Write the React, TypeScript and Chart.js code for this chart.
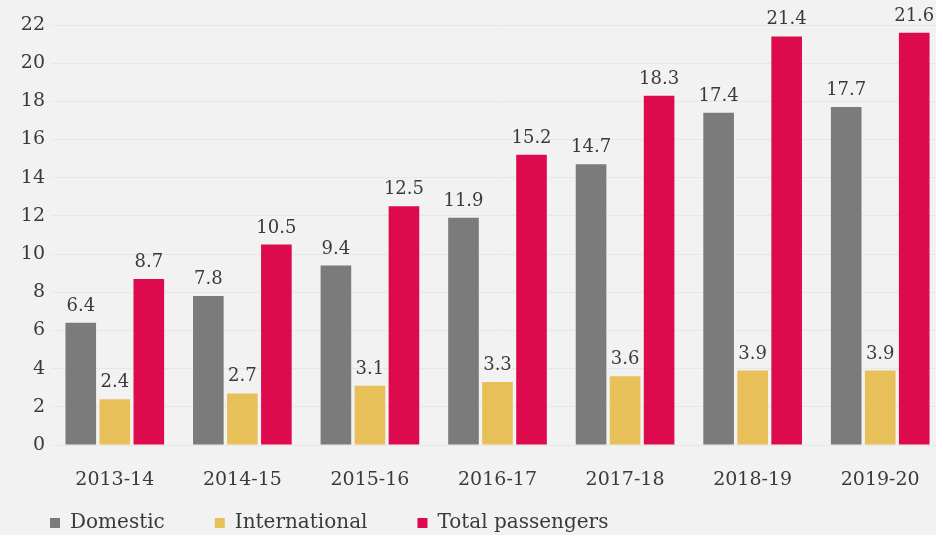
import React, { useEffect, useRef } from "react";
import { Chart, registerables } from "chart.js";

Chart.register(...registerables);

const categories = ["2013-14", "2014-15", "2015-16", "2016-17", "2017-18", "2018-19", "2019-20"];
const domestic = [6.4, 7.8, 9.4, 11.9, 14.7, 17.4, 17.7];
const international = [2.4, 2.7, 3.1, 3.3, 3.6, 3.9, 3.9];
const totalPassengers = [8.7, 10.5, 12.5, 15.2, 18.3, 21.4, 21.6];
const seriesNames = ["Domestic", "International", "Total passengers"];
const yTicks = [0, 2, 4, 6, 8, 10, 12, 14, 16, 18, 20, 22];

const FONT = "'DejaVu Serif', serif";
const TEXT = "#3a3a3a";
const LEGEND_PAD = 50;
const X_AXIS_H = 50;
const LEGEND_ITEM_Y = 523;

const valueLabels = {
  id: "valueLabels",
  afterDatasetsDraw(chart: any) {
    const ctx = chart.ctx;
    ctx.save();
    ctx.font = `18px ${FONT}`;
    ctx.fillStyle = TEXT;
    ctx.textAlign = "center";
    ctx.textBaseline = "alphabetic";
    chart.data.datasets.forEach((ds: any, i: number) => {
      const meta = chart.getDatasetMeta(i);
      meta.data.forEach((el: any, j: number) => {
        ctx.fillText(String(ds.data[j]), el.x, el.y - 12);
      });
    });
    ctx.restore();
  },
};

// moves the legend row up so it sits right under the category labels
const legendShift = {
  id: "legendShift",
  afterLayout(chart: any) {
    const lg = chart.legend;
    if (!lg) return;
    const itemCenter = lg.top + LEGEND_PAD + 10;
    const dy = LEGEND_ITEM_Y - itemCenter;
    lg.top += dy;
    lg.bottom += dy;
  },
};

export default function App() {
  const ref = useRef<HTMLCanvasElement>(null);
  useEffect(() => {
    if (!ref.current) return;
    const chart = new Chart(ref.current, {
      type: "bar",
      data: {
        labels: categories,
        datasets: [
          { label: seriesNames[0], data: domestic, backgroundColor: "#7b7b7b" },
          { label: seriesNames[1], data: international, backgroundColor: "#e8c05a" },
          { label: seriesNames[2], data: totalPassengers, backgroundColor: "#dd0a4e" },
        ],
      },
      options: {
        responsive: false,
        animation: false,
        devicePixelRatio: 1,
        layout: { padding: { top: 25, left: 0, right: 6, bottom: 0 } },
        plugins: {
          tooltip: { enabled: false },
          legend: {
            position: "bottom",
            align: "start",
            labels: {
              boxWidth: 10,
              boxHeight: 10,
              padding: LEGEND_PAD,
              color: TEXT,
              font: { family: FONT, size: 20 },
            },
          },
        },
        scales: {
          x: {
            grid: { display: false },
            border: { display: false },
            ticks: { color: TEXT, font: { family: FONT, size: 19 }, padding: 16, maxRotation: 0 },
            afterFit: (s: any) => {
              s.height = X_AXIS_H;
            },
          },
          y: {
            min: 0,
            max: 22,
            afterBuildTicks: (s: any) => {
              s.ticks = yTicks.map((v) => ({ value: v }));
            },
            grid: { color: "#e7e7e7", drawTicks: false },
            border: { display: false },
            ticks: { color: TEXT, font: { family: FONT, size: 19 }, padding: 6 },
            afterFit: (s: any) => {
              s.width = 51;
            },
          },
        },
      },
      plugins: [valueLabels, legendShift],
    });
    return () => chart.destroy();
  }, []);
  return (
    <div
      style={{
        position: "fixed",
        left: 0,
        top: 0,
        width: 936,
        height: 535,
        overflow: "hidden",
        background: "#f2f2f2",
      }}
    >
      <canvas ref={ref} width={950} height={575} style={{ display: "block" }} />
    </div>
  );
}
